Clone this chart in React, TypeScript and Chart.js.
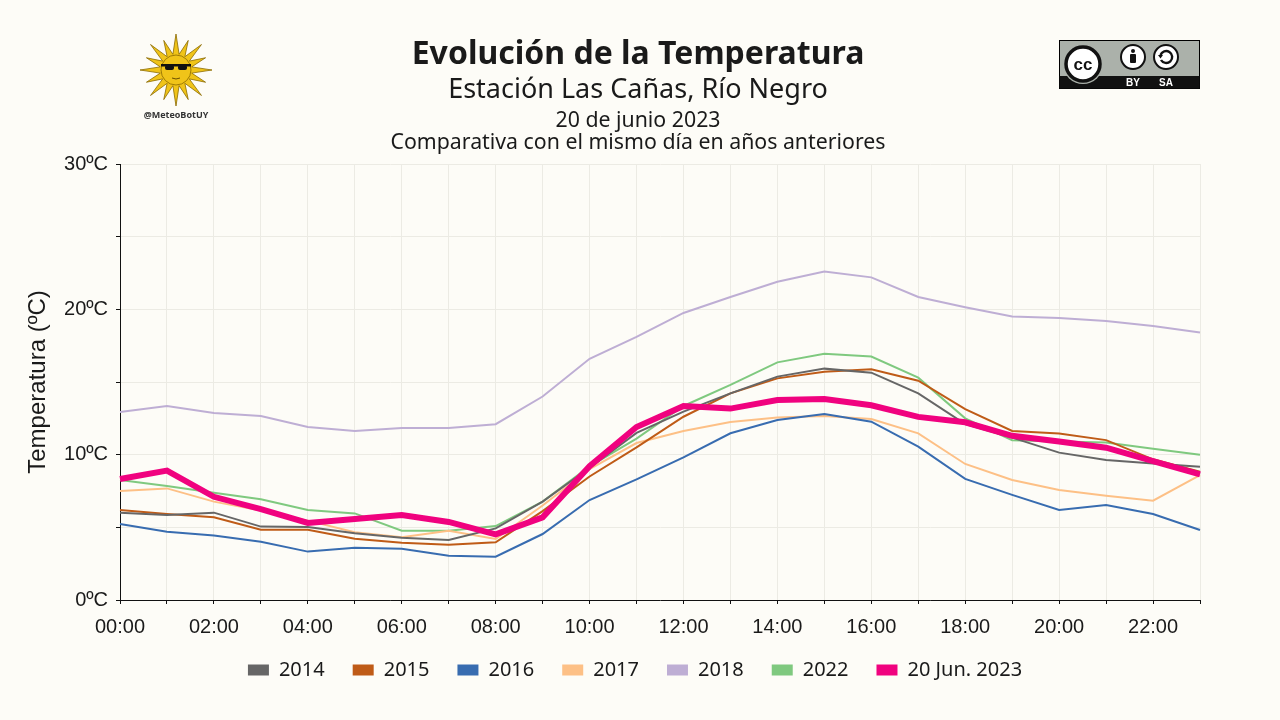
import React, { useEffect, useRef } from "react";
import { Chart, registerables } from "chart.js";

Chart.register(...registerables);

const hours = [
  "00:00", "01:00", "02:00", "03:00", "04:00", "05:00", "06:00", "07:00",
  "08:00", "09:00", "10:00", "11:00", "12:00", "13:00", "14:00", "15:00",
  "16:00", "17:00", "18:00", "19:00", "20:00", "21:00", "22:00", "23:00",
];

const seriesLabels = ["2014", "2015", "2016", "2017", "2018", "2022", "20 Jun. 2023"];

const t2014 = [6.01, 5.85, 6.01, 5.05, 5.02, 4.59, 4.29, 4.13, 4.93, 6.77, 9.1, 11.5, 12.96, 14.22, 15.37, 15.92, 15.64, 14.22, 12.11, 11.17, 10.14, 9.63, 9.4, 9.17];
const t2015 = [6.19, 5.92, 5.69, 4.84, 4.84, 4.22, 3.94, 3.81, 3.97, 6.12, 8.5, 10.5, 12.61, 14.22, 15.25, 15.71, 15.87, 15.09, 13.14, 11.63, 11.45, 11.0, 9.68, 8.83];
const t2016 = [5.23, 4.7, 4.43, 4.01, 3.33, 3.6, 3.53, 3.05, 2.98, 4.54, 6.88, 8.3, 9.82, 11.47, 12.39, 12.8, 12.27, 10.55, 8.33, 7.23, 6.19, 6.54, 5.92, 4.82];
const t2017 = [7.5, 7.68, 6.77, 6.15, 5.46, 4.66, 4.31, 4.77, 4.2, 6.5, 9.0, 10.8, 11.63, 12.25, 12.55, 12.66, 12.45, 11.47, 9.36, 8.26, 7.57, 7.18, 6.83, 8.6];
const t2018 = [12.94, 13.35, 12.87, 12.66, 11.9, 11.63, 11.84, 11.84, 12.1, 14.0, 16.6, 18.1, 19.75, 20.85, 21.9, 22.6, 22.2, 20.85, 20.15, 19.5, 19.4, 19.2, 18.85, 18.4];
const t2022 = [8.26, 7.84, 7.38, 6.93, 6.2, 5.96, 4.77, 4.77, 5.09, 6.77, 9.2, 11.1, 13.35, 14.8, 16.35, 16.95, 16.75, 15.3, 12.5, 11.0, 10.9, 10.83, 10.4, 10.0];
const t2023 = [8.33, 8.9, 7.1, 6.26, 5.3, 5.57, 5.85, 5.37, 4.52, 5.69, 9.2, 11.9, 13.35, 13.17, 13.76, 13.83, 13.4, 12.6, 12.23, 11.3, 10.9, 10.48, 9.56, 8.65];

const seriesValues = [t2014, t2015, t2016, t2017, t2018, t2022, t2023];
const seriesColors = ["#666666", "#bf5b17", "#386cb0", "#fdc086", "#beaed4", "#7fc97f", "#f0027f"];
const seriesWidths = [2, 2, 2, 2, 2, 2, 6];

const BG = "#fdfcf7";
const TEXT = "#1a1a1a";

const legendShift = {
  id: "legendShift",
  afterLayout(chart: any) {
    const l = chart.legend;
    if (!l) return;
    l.top -= 10;
    l.bottom -= 10;
    l.left += 25;
    l.right += 25;
  },
};

function Logos() {
  const cx = 176, cy = 70;
  const pts: string[] = [];
  const n = 16;
  for (let i = 0; i < n * 2; i++) {
    const a = (Math.PI * i) / n - Math.PI / 2;
    const r = i % 2 === 0 ? (i % 4 === 0 ? 36 : 32) : 16;
    pts.push(`${cx + r * Math.cos(a)},${cy + r * Math.sin(a)}`);
  }
  return (
    <svg width={1280} height={140} style={{ position: "absolute", left: 0, top: 0, pointerEvents: "none" }}>
      <polygon points={pts.join(" ")} fill="#f0c419" stroke="#8a6a00" strokeWidth={0.8} />
      <circle cx={cx} cy={cy} r={15} fill="#f0c419" stroke="#8a6a00" strokeWidth={0.8} />
      <rect x={cx - 15} y={cy - 6} width={30} height={2.5} fill="#111" />
      <rect x={cx - 11} y={cy - 5} width={9} height={5} rx={2} fill="#111" />
      <rect x={cx + 2} y={cy - 5} width={9} height={5} rx={2} fill="#111" />
      <path d={`M ${cx - 4} ${cy + 8} Q ${cx} ${cy + 10} ${cx + 4} ${cy + 8}`} stroke="#6b4f00" strokeWidth={1} fill="none" />
      <text x={cx} y={118} textAnchor="middle" fontFamily="'Open Sans', sans-serif" fontWeight={700} fontSize={9} fill="#333">@MeteoBotUY</text>

      <rect x={1059.5} y={40.5} width={140} height={48} fill="#abb1aa" stroke="#000" strokeWidth={1} />
      <rect x={1059.5} y={76} width={140} height={12.5} fill="#111" />
      <circle cx={1083} cy={64} r={20} fill="#abb1aa" />
      <circle cx={1083} cy={64} r={17} fill="#fff" stroke="#111" strokeWidth={3.5} />
      <text x={1083} y={70} textAnchor="middle" fontFamily="'Liberation Sans', Arial, sans-serif" fontWeight={700} fontSize={17} fill="#111">cc</text>
      <circle cx={1133} cy={57} r={12} fill="#fff" stroke="#111" strokeWidth={2} />
      <circle cx={1133} cy={51} r={2} fill="#111" />
      <rect x={1130} y={54} width={6} height={9} rx={1} fill="#111" />
      <circle cx={1166} cy={57} r={12} fill="#fff" stroke="#111" strokeWidth={2} />
      <path d="M 1160.5 55 A 6 6 0 1 1 1161 60" stroke="#111" strokeWidth={2.4} fill="none" />
      <polygon points="1158,55 1163,55 1160.5,58.5" fill="#111" />
      <text x={1133} y={86} textAnchor="middle" fontFamily="'Liberation Sans', Arial, sans-serif" fontWeight={700} fontSize={10} fill="#fff">BY</text>
      <text x={1166} y={86} textAnchor="middle" fontFamily="'Liberation Sans', Arial, sans-serif" fontWeight={700} fontSize={10} fill="#fff">SA</text>
    </svg>
  );
}

export default function App() {
  const ref = useRef<HTMLCanvasElement | null>(null);

  useEffect(() => {
    if (!ref.current) return;
    const datasets = seriesLabels.map((label, i) => ({
      label,
      data: seriesValues[i],
      borderColor: seriesColors[i],
      backgroundColor: seriesColors[i],
      borderWidth: seriesWidths[i],
      pointRadius: 0,
      tension: 0,
      fill: false,
      order: i === seriesLabels.length - 1 ? -1 : 1,
    }));

    const chart = new Chart(ref.current, {
      type: "line",
      data: { labels: hours, datasets },
      plugins: [legendShift],
      options: {
        animation: false,
        responsive: false,
        devicePixelRatio: 1,
        layout: { padding: { top: 164, left: 20, right: 80, bottom: 20 } },
        plugins: {
          title: { display: false },
          tooltip: { enabled: false },
          legend: {
            display: true,
            position: "bottom",
            labels: {
              boxWidth: 21,
              boxHeight: 11,
              padding: 28,
              color: TEXT,
              font: { family: "'Noto Sans', 'Open Sans', sans-serif", size: 20 },
              sort: (a: any, b: any) => a.datasetIndex - b.datasetIndex,
              generateLabels: (c: any) =>
                Chart.defaults.plugins.legend.labels.generateLabels(c).map((l: any) => ({
                  ...l,
                  lineWidth: 0,
                  fillStyle: l.strokeStyle,
                })),
            },
          },
        },
        scales: {
          x: {
            type: "category",
            offset: false,
            afterFit: (s: any) => { s.height = 42; },
            grid: {
              offset: false,
              color: "#ecebe4",
              tickColor: "#111",
              tickLength: 4,
              lineWidth: 1,
            },
            border: { color: "#111", width: 1 },
            ticks: {
              autoSkip: false,
              maxRotation: 0,
              padding: 11,
              color: TEXT,
              font: { family: "'Liberation Sans', Arial, sans-serif", size: 20 },
              callback: (_v: any, i: number) => (i % 2 === 0 ? hours[i] : ""),
            },
          },
          y: {
            min: 0,
            max: 30,
            afterFit: (s: any) => { s.width = 100; },
            grid: {
              color: "#ecebe4",
              tickColor: "#111",
              tickLength: 4,
              lineWidth: 1,
            },
            border: { color: "#111", width: 1 },
            ticks: {
              stepSize: 5,
              padding: 8,
              color: TEXT,
              font: { family: "'Liberation Sans', Arial, sans-serif", size: 20 },
              callback: (v: any) => (Number(v) % 10 === 0 ? `${v}ºC` : ""),
            },
            title: {
              display: true,
              text: "Temperatura (ºC)",
              color: TEXT,
              font: { family: "'Liberation Sans', Arial, sans-serif", size: 24 },
              padding: { top: 4, bottom: 4 },
            },
          },
        },
      },
    } as any);
    return () => chart.destroy();
  }, []);

  const center: React.CSSProperties = {
    position: "absolute",
    left: 0,
    width: 1276,
    textAlign: "center",
    color: TEXT,
    fontFamily: "'Noto Sans', 'Open Sans', sans-serif",
    whiteSpace: "nowrap",
    lineHeight: 1,
  };

  return (
    <div style={{ position: "fixed", left: 0, top: 0, width: 1280, height: 720, background: BG, overflow: "hidden" }}>
      <canvas ref={ref} width={1280} height={720} style={{ position: "absolute", left: 0, top: 0, width: 1280, height: 720 }} />
      <Logos />
      <div style={{ ...center, top: 36, fontSize: 32, fontWeight: 700 }}>Evolución de la Temperatura</div>
      <div style={{ ...center, top: 74, fontSize: 27 }}>Estación Las Cañas, Río Negro</div>
      <div style={{ ...center, top: 108, fontSize: 21.3 }}>20 de junio 2023</div>
      <div style={{ ...center, top: 130, fontSize: 21.3 }}>Comparativa con el mismo día en años anteriores</div>
    </div>
  );
}
